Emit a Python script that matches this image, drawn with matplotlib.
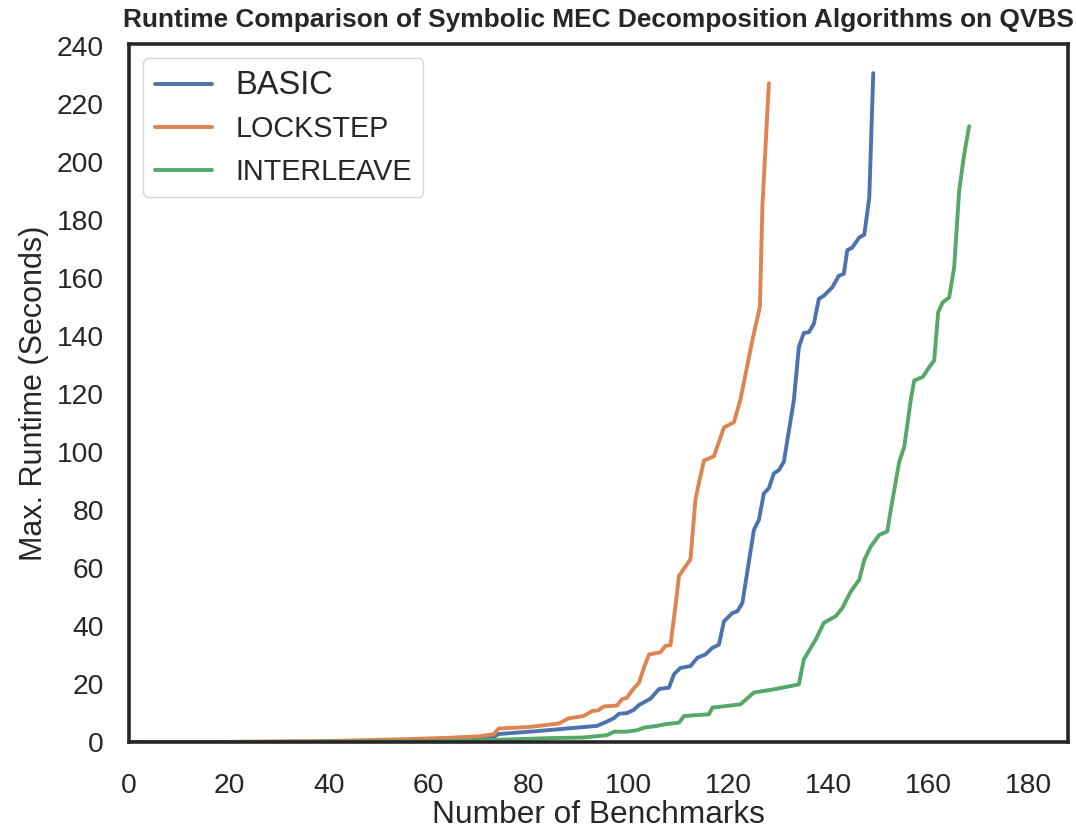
import matplotlib
matplotlib.use("Agg")
import matplotlib.pyplot as plt
import seaborn as sns

# cactus plot vertices (benchmark count, max runtime in s)
basic_x = [0, 20, 40, 60, 70, 73, 74, 81, 85, 91, 93.7, 95.7, 97.1, 98.1, 99.7, 101, 102.1,
           104.4, 106.1, 108.1, 109.1, 110.4, 112.4, 113.8, 115.4, 116.8, 118.1, 119.1, 120.8,
           121.8, 122.8, 125.1, 126.1, 127.1, 128.1, 129.1, 130.1, 131.1, 133.1, 134.1, 135.1,
           136.1, 137.1, 138.1, 139.1, 140.8, 142.1, 143.1, 143.8, 144.8, 146.2, 147.2, 148.2, 149.0]
basic_y = [0, 0.05, 0.2, 0.6, 1.2, 1.8, 2.8, 3.7, 4.3, 5.2, 5.6, 7.1, 8.3, 9.8, 10.0, 11.1, 12.8,
           15.0, 18.3, 18.8, 23.4, 25.6, 26.2, 29.1, 30.2, 32.5, 33.6, 41.6, 44.5,
           45.1, 48.0, 73.1, 76.6, 85.7, 87.5, 92.6, 93.7, 96.6, 117.8, 136.1, 141.0,
           141.2, 144.1, 152.7, 153.8, 156.7, 160.7, 161.3, 169.5, 170.4, 173.9, 174.8, 187.6, 230.5]

lockstep_x = [0, 20, 40, 55, 64, 70, 73, 74, 80, 86, 88, 91, 92.7, 94, 95, 97.7, 98.7, 99.7,
              100.7, 102.1, 103.1, 104.1, 106.4, 107.4, 108.4, 109.4, 110.1, 112.4, 113.4, 114.1,
              115.1, 117.1, 119.1, 121.1, 122.4, 124.8, 126.3, 126.8, 127.5, 128.1]
lockstep_y = [0, 0.1, 0.4, 1.0, 1.5, 2.0, 2.7, 4.7, 5.2, 6.4, 8.2, 9.0, 10.7, 11.0, 12.3, 12.6,
              14.8, 15.3, 17.8, 20.5, 25.8, 30.2, 31.0, 33.2, 33.4, 47.0, 57.3, 63.0, 83.6, 89.4,
              97.0, 98.5, 108.4, 110.2, 118.0, 138.5, 150.0, 184.5, 207.5, 227.0]

interleave_x = [0, 20, 40, 60, 70, 84.4, 91, 95.7, 97.1, 99.7, 101.7, 103.1, 105.7, 107.4, 110.1,
                111.1, 116.1, 116.8, 119.8, 122.4, 125.1, 129.1, 131.8, 134.1, 135.1, 137.5,
                139.1, 141.5, 142.8, 144.5, 146.2, 147.2, 148.5, 150.2, 151.8, 152.5, 154.2,
                155.2, 156.5, 157.2, 158.9, 160.2, 161.2, 162.0, 162.9, 164.2, 165.2, 166.2,
                167.2, 168.2]
interleave_y = [0, 0.02, 0.1, 0.3, 0.6, 1.4, 1.6, 2.4, 3.6, 3.6, 4.1, 5.0, 5.6, 6.2, 6.7,
                9.0, 9.6, 11.9, 12.5, 13.0, 17.1, 18.2, 19.1, 19.9, 28.5, 35.4,
                41.1, 43.4, 46.2, 51.9, 56.0, 62.8, 67.4, 71.4, 72.6, 80.0, 96.6,
                101.7, 117.8, 124.6, 125.8, 129.2, 131.5, 148.1, 151.5, 153.2, 163.6, 189.9,
                202.5, 212.2]

sns.set_theme(style="white")
plt.rcParams['font.family'] = ['Liberation Sans', 'DejaVu Sans']
colors = sns.color_palette("deep")

fig, ax = plt.subplots(figsize=(10.76, 8.32), dpi=100)
fig.subplots_adjust(left=0.12, right=0.9926, top=0.947, bottom=0.108)

ax.plot(basic_x, basic_y, color=colors[0], lw=2.8, label="BASIC")
ax.plot(lockstep_x, lockstep_y, color=colors[1], lw=2.8, label="LOCKSTEP")
ax.plot(interleave_x, interleave_y, color=colors[2], lw=2.8, label="INTERLEAVE")

ax.set_xlim(0, 188)
ax.set_ylim(0, 240.5)
ax.set_xticks(range(0, 181, 20))
ax.set_yticks(range(0, 241, 20))
ax.tick_params(labelsize=20.3, colors="#262626")
ax.tick_params(axis="x", pad=16)
ax.tick_params(axis="y", pad=12)
for s in ax.spines.values():
    s.set_color("#262626")
    s.set_linewidth(2.6)

ax.set_xlabel("Number of Benchmarks", fontsize=22.8, color="#262626", labelpad=1)
ax.set_ylabel("Max. Runtime (Seconds)", fontsize=22, color="#262626", labelpad=6)
ax.set_title("Runtime Comparison of Symbolic MEC Decomposition Algorithms on QVBS",
             fontsize=18.9, fontweight="bold", color="#262626", pad=12)

leg = ax.legend(loc="upper left", fontsize=20.7, frameon=True)
texts = leg.get_texts()
texts[0].set_fontsize(23.5)
for t in texts:
    t.set_color("#262626")

fig.savefig("out.png")
